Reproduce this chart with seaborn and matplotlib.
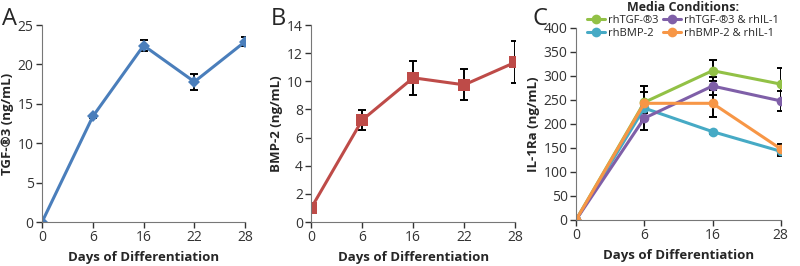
import numpy as np
import pandas as pd
import matplotlib
matplotlib.use('Agg')
import matplotlib.pyplot as plt
import seaborn as sns

# panel A / B days
days_ab = ['0', '6', '16', '22', '28']
tgf = [0.0, 13.4, 22.4, 17.8, 22.9]
tgf_err = [0.0, 0.2, 0.7, 1.0, 0.6]
bmp = [1.0, 7.25, 10.25, 9.75, 11.35]
bmp_err = [0.0, 0.7, 1.2, 1.1, 1.5]

# panel C
days_c = ['0', '6', '16', '28']
c_tgf = [0, 245, 311, 283]
c_tgf_err = [0, 22, 22, 33]
c_tgf_il = [0, 212, 279, 248]
c_tgf_il_err = [0, 25, 18, 21]
c_bmp = [0, 233, 184, 143]
c_bmp_err = [0, 8, 4, 10]
c_bmp_il = [0, 243, 243, 148]
c_bmp_il_err = [0, 36, 28, 10]

sns.set_style('ticks')
plt.rcParams['font.family'] = ['Open Sans', 'DejaVu Sans']

fig = plt.figure(figsize=(8, 2.66), dpi=100)
axA = fig.add_axes([0.0525, 0.165, 0.254, 0.741])
axB = fig.add_axes([0.389, 0.165, 0.255, 0.741])
axC = fig.add_axes([0.72, 0.173, 0.256, 0.722])


def draw(ax, days, vals, errs, color, marker, ms, label=None):
    x = np.arange(len(days))
    df = pd.DataFrame({'x': x, 'y': vals})
    sns.lineplot(data=df, x='x', y='y', ax=ax, color=color, lw=2.2,
                 marker=marker, markersize=ms, markeredgewidth=0, label=label)
    ax.errorbar(x[1:], vals[1:], yerr=errs[1:], fmt='none', ecolor='black',
                elinewidth=1.4, capsize=3, capthick=1.4, zorder=1)


def style(ax, days, ylim, yticks, ylabel):
    ax.set_xlim(0, len(days) - 1)
    ax.set_xticks(np.arange(len(days)))
    ax.set_xticklabels(days)
    ax.set_ylim(*ylim)
    ax.set_yticks(yticks)
    ax.set_xlabel('Days of Differentiation', fontsize=9.5, fontweight='bold')
    ax.set_ylabel(ylabel, fontsize=9.5, fontweight='bold', labelpad=3)
    ax.tick_params(labelsize=10, length=4, width=1, colors='#333333', pad=2)
    for s in ['top', 'right']:
        ax.spines[s].set_visible(False)
    for s in ['left', 'bottom']:
        ax.spines[s].set_color('#777777')
        ax.spines[s].set_clip_on(False)


draw(axA, days_ab, tgf, tgf_err, '#4A7EBB', 'D', 6)
style(axA, days_ab, (0, 25), range(0, 26, 5), 'TGF-®3 (ng/mL)')

draw(axB, days_ab, bmp, bmp_err, '#BE4B48', 's', 8)
style(axB, days_ab, (0, 14), range(0, 15, 2), 'BMP-2 (ng/mL)')

draw(axC, days_c, c_tgf, c_tgf_err, '#92C146', 'o', 7, 'rhTGF-®3')
draw(axC, days_c, c_bmp, c_bmp_err, '#46AAC5', 'o', 7, 'rhBMP-2')
draw(axC, days_c, c_tgf_il, c_tgf_il_err, '#7F5FA8', 'o', 7, 'rhTGF-®3 & rhIL-1')
draw(axC, days_c, c_bmp_il, c_bmp_il_err, '#F79646', 'o', 7, 'rhBMP-2 & rhIL-1')
style(axC, days_c, (0, 400), range(0, 401, 50), 'IL-1Ra (ng/mL)')

leg = axC.legend(loc='upper left', bbox_to_anchor=(0.733, 1.0),
                 bbox_transform=fig.transFigure, ncol=2, frameon=False,
                 fontsize=8, title='Media Conditions:', handlelength=1.6,
                 handletextpad=0.3, columnspacing=0.4, labelspacing=0.15,
                 borderpad=0.05, borderaxespad=0)
leg.get_title().set_fontweight('bold')
leg.get_title().set_fontsize(9)

fig.text(0.002, 0.905, 'A', fontsize=17)
fig.text(0.338, 0.905, 'B', fontsize=17)
fig.text(0.665, 0.905, 'C', fontsize=17)

fig.savefig('out.png', dpi=100)
